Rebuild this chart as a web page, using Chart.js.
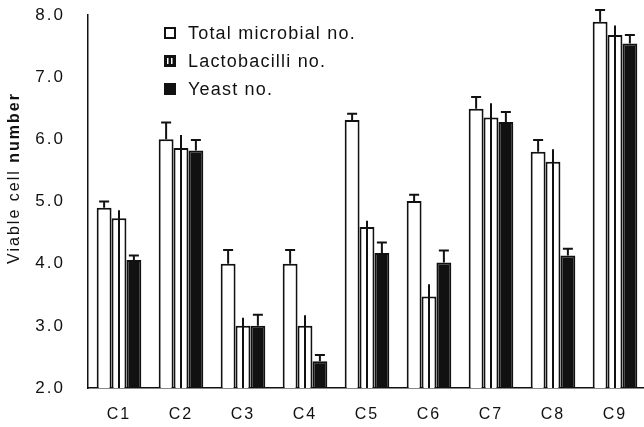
<!DOCTYPE html>
<html>
<head>
<meta charset="utf-8">
<script src="https://cdn.jsdelivr.net/npm/chart.js@4/dist/chart.umd.min.js"></script>
<style>
  html, body { margin: 0; padding: 0; background: #fff; overflow: hidden; }
  #wrap { width: 646px; height: 427px; }
</style>
</head>
<body>
<div id="wrap"><canvas id="chart" width="646" height="427"></canvas></div>
<script>
// Data
const categories = ['C1', 'C2', 'C3', 'C4', 'C5', 'C6', 'C7', 'C8', 'C9'];
const seriesLabels = ['Total microbial no.', 'Lactobacilli no.', 'Yeast no.'];

const totalValues = [4.90, 6.00, 4.00, 4.00, 6.31, 5.01, 6.49, 5.80, 7.89];
const totalErrors = [0.10, 0.27, 0.22, 0.22, 0.10, 0.10, 0.19, 0.19, 0.19];

const lactoValues = [4.73, 5.86, 3.00, 3.00, 4.59, 3.47, 6.35, 5.64, 7.68];
const lactoErrors = [0.13, 0.21, 0.13, 0.17, 0.10, 0.20, 0.23, 0.20, 0.15];

const yeastValues = [4.06, 5.82, 3.00, 2.43, 4.17, 4.02, 6.28, 4.13, 7.54];
const yeastErrors = [0.07, 0.17, 0.18, 0.10, 0.17, 0.19, 0.16, 0.11, 0.14];

const yTicks = [2, 3, 4, 5, 6, 7, 8];

const INK = '#111';
const FONT = '"Liberation Sans", Arial, sans-serif';

// error bars, lacto stripe
const errorBars = {
    id: 'errorBars',
    afterDatasetsDraw(chart) {
        const ctx = chart.ctx;
        const y = chart.scales.y;
        const base = chart.chartArea.bottom;
        ctx.save();
        ctx.strokeStyle = INK;
        ctx.lineWidth = 2;
        chart.data.datasets.forEach((ds, i) => {
            const meta = chart.getDatasetMeta(i);
            meta.data.forEach((bar, j) => {
                const top = y.getPixelForValue(ds.data[j] + ds.errors[j]);
                const from = ds.stripe ? base : y.getPixelForValue(ds.data[j]);
                ctx.beginPath();
                ctx.moveTo(bar.x, from);
                ctx.lineTo(bar.x, top);
                if (ds.cap) {
                    ctx.moveTo(bar.x - 5, top);
                    ctx.lineTo(bar.x + 5, top);
                }
                ctx.stroke();
            });
        });
        ctx.restore();
    }
};

// legend inside the plot + y title with bold "number"
const extras = {
    id: 'extras',
    beforeDraw(chart) {
        chart.ctx.letterSpacing = '2px';
    },
    afterDraw(chart) {
        const ctx = chart.ctx;
        ctx.save();
        ctx.letterSpacing = '1.2px';
        ctx.font = '18px ' + FONT;
        ctx.fillStyle = INK;
        ctx.textBaseline = 'middle';
        const bx = 164, size = 12;
        seriesLabels.forEach((label, i) => {
            const cy = 33 + i * 28;
            const by = cy - size / 2;
            if (i === 0) {
                ctx.fillStyle = '#fff';
                ctx.fillRect(bx, by, size, size);
                ctx.strokeStyle = INK;
                ctx.lineWidth = 2;
                ctx.strokeRect(bx + 1, by + 1, size - 2, size - 2);
            } else {
                ctx.fillStyle = INK;
                ctx.fillRect(bx, by, size, size);
                if (i === 1) {
                    ctx.fillStyle = '#fff';
                    ctx.fillRect(bx + 3, by + 3, 1.5, size - 6);
                    ctx.fillRect(bx + 7, by + 3, 1.5, size - 6);
                }
            }
            ctx.fillStyle = INK;
            ctx.textAlign = 'left';
            ctx.fillText(label, 188, cy + 1);
        });

        // y title
        ctx.translate(15, 178);
        ctx.rotate(-Math.PI / 2);
        ctx.letterSpacing = '2px';
        const a = 'Viable cell ', b = 'number';
        ctx.font = '16px ' + FONT;
        const wa = ctx.measureText(a).width;
        ctx.font = 'bold 16px ' + FONT;
        const wb = ctx.measureText(b).width;
        const x0 = -(wa + wb) / 2;
        ctx.font = '16px ' + FONT;
        ctx.fillText(a, x0, 0);
        ctx.font = 'bold 16px ' + FONT;
        ctx.fillText(b, x0 + wa, 0);
        ctx.restore();
    }
};

new Chart(document.getElementById('chart'), {
    type: 'bar',
    data: {
        labels: categories,
        datasets: [
            {
                label: seriesLabels[0], data: totalValues, errors: totalErrors, cap: true,
                backgroundColor: '#fff', borderColor: INK, borderWidth: 2
            },
            {
                label: seriesLabels[1], data: lactoValues, errors: lactoErrors, cap: false, stripe: true,
                backgroundColor: '#fff', borderColor: INK, borderWidth: 2
            },
            {
                label: seriesLabels[2], data: yeastValues, errors: yeastErrors, cap: true,
                backgroundColor: INK, borderColor: INK, borderWidth: 2
            }
        ]
    },
    options: {
        responsive: false,
        animation: false,
        layout: { padding: { top: 15, left: 0, right: 0, bottom: 0 } },
        categoryPercentage: 0.72,
        barPercentage: 1.0,
        plugins: {
            legend: { display: false },
            tooltip: { enabled: false }
        },
        scales: {
            x: {
                grid: { display: false, drawTicks: false },
                border: { color: INK, width: 1.5 },
                ticks: { color: INK, font: { family: FONT, size: 16 }, padding: 17 },
                afterFit(scale) { scale.height = 39; }
            },
            y: {
                min: 2, max: 8,
                afterBuildTicks(scale) { scale.ticks = yTicks.map(v => ({ value: v })); },
                grid: { display: false, drawTicks: false },
                border: { color: INK, width: 1.5 },
                ticks: {
                    color: INK, font: { family: FONT, size: 17 }, padding: 23,
                    callback: v => Number(v).toFixed(1)
                },
                afterFit(scale) {
                    scale.width = 88;
                    scale.paddingTop = 0;
                    scale.paddingBottom = 0;
                }
            }
        }
    },
    plugins: [errorBars, extras]
});
</script>
</body>
</html>
